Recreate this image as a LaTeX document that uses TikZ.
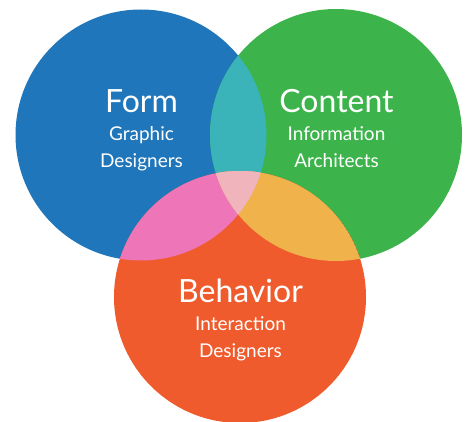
\documentclass[tikz,border=0pt]{standalone}
\usepackage{fontspec}
\setmainfont{Lato}
\definecolor{cblue}{HTML}{1F76BA}
\definecolor{cgreen}{HTML}{3DB34C}
\definecolor{corange}{HTML}{EF5B2C}
\definecolor{cteal}{HTML}{3AB3B9}
\definecolor{cpink}{HTML}{EE76B8}
\definecolor{cyellow}{HTML}{F0B24A}
\definecolor{clight}{HTML}{EFB4BC}
\tikzset{
  title/.style={text=white, font=\fontsize{32}{34}\selectfont, inner sep=0pt, anchor=base},
  sub/.style={text=white, font=\fontsize{19}{27}\selectfont, align=center, inner sep=0pt, anchor=north},
}
\begin{document}
\begin{tikzpicture}[x=1pt,y=-1pt]
\useasboundingbox (0,0) rectangle (467,422);
\coordinate (cb) at (141,135);
\coordinate (cg) at (336,135);
\coordinate (co) at (240,297);
\def\rb{125.5}
\def\rg{126}
\def\ro{126}
\fill[cblue] (cb) circle[radius=\rb];
\fill[cgreen] (cg) circle[radius=\rg];
\fill[corange] (co) circle[radius=\ro];
\begin{scope}
  \clip (cb) circle[radius=\rb];
  \fill[cteal] (cg) circle[radius=\rg];
  \fill[cpink] (co) circle[radius=\ro];
  \clip (cg) circle[radius=\rg];
  \fill[clight] (co) circle[radius=\ro];
\end{scope}
\begin{scope}
  \clip (cg) circle[radius=\rg];
  \clip (co) circle[radius=\ro];
  \fill[cyellow] (co) circle[radius=\ro];
  \fill[clight] (cb) circle[radius=\rb];
\end{scope}
\node[title] (form) at (141.5,113) {Form};
\node[sub] (formsub) at (141.5,126) {Graphic\\Designers};
\node[title] (content) at (336.5,113) {Content};
\node[sub] (contentsub) at (336.5,126) {Information\\Architects};
\node[title] (behavior) at (240.5,303) {Behavior};
\node[sub] (behaviorsub) at (240.5,316) {Interaction\\Designers};
\end{tikzpicture}
\end{document}
